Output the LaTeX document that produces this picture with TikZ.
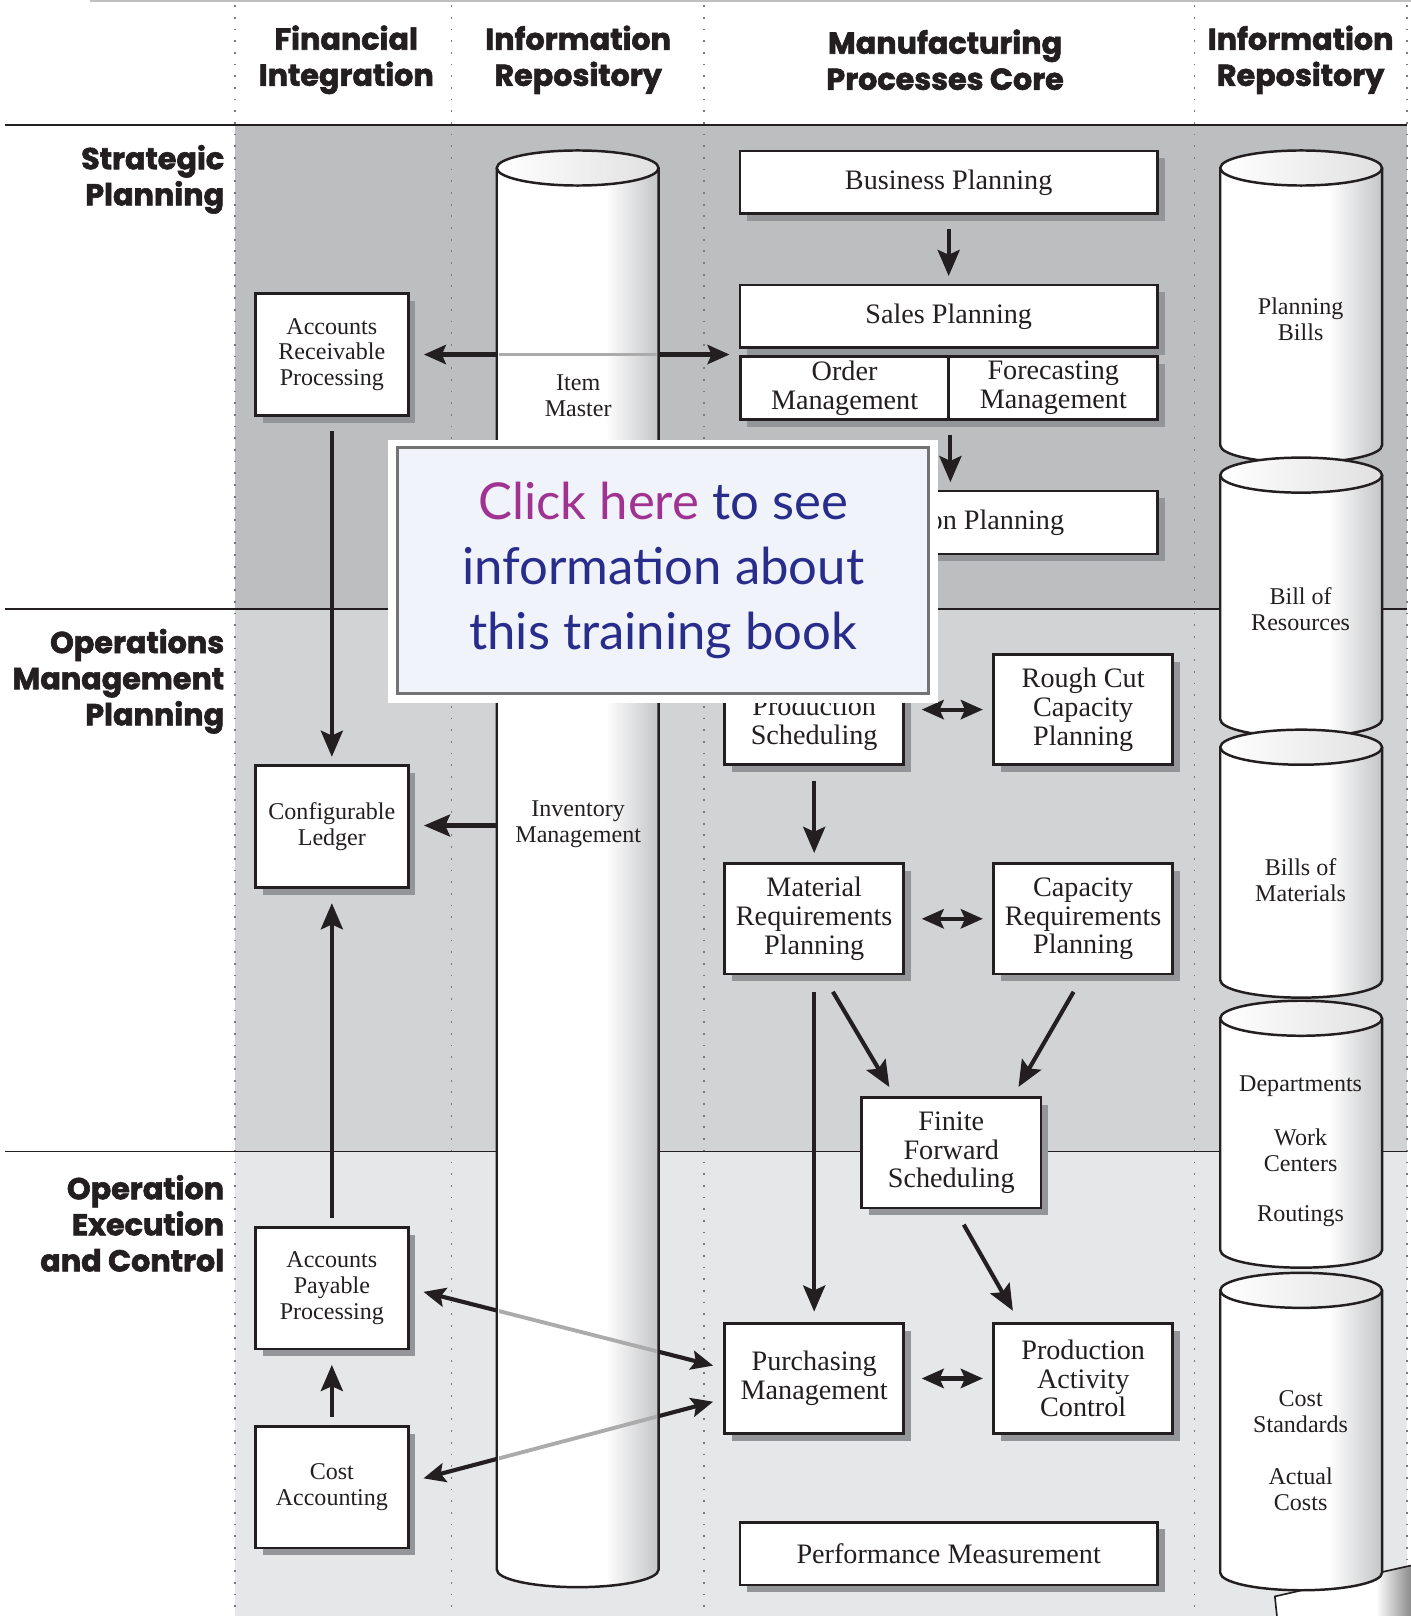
\documentclass[tikz,border=0pt]{standalone}
\usepackage{fontspec}
\setmainfont{Liberation Serif}
\newfontfamily\headfont[BoldFeatures={FakeBold=2}]{Poppins}
\newfontfamily\clickfont{Lato}
\usetikzlibrary{arrows.meta,shadows,calc}

\definecolor{bandA}{RGB}{188,190,192}
\definecolor{bandB}{RGB}{209,211,212}
\definecolor{bandC}{RGB}{230,231,232}
\definecolor{shadowgray}{RGB}{147,149,152}
\definecolor{dotgray}{RGB}{120,122,125}
\definecolor{cylgray}{RGB}{196,197,199}
\definecolor{inkblack}{RGB}{35,31,32}
\definecolor{clickpink}{RGB}{160,50,145}
\definecolor{clickblue}{RGB}{40,45,140}
\definecolor{clickfill}{RGB}{240,243,250}

\tikzset{every picture/.style={line width=0.75pt}}
\tikzset{
  procbox/.style={draw=inkblack, line width=2pt, fill=white, align=center, inner sep=0pt,
    font=\fontsize{20.5}{21}\selectfont, text=inkblack,
    drop shadow={shadow xshift=5.25pt, shadow yshift=-5.25pt, fill=shadowgray, opacity=1}},
  widebox/.style={procbox, minimum width=303.75pt, minimum height=45.75pt},
  halfbox/.style={procbox, minimum width=152pt, minimum height=45.75pt},
  midbox/.style={procbox, minimum width=130.5pt, minimum height=80.25pt},
  finbox/.style={procbox, minimum width=111pt, minimum height=88.5pt, font=\fontsize{17.5}{18.75}\selectfont},
  repolabel/.style={align=center, inner sep=0pt, text=inkblack, font=\fontsize{17.5}{18.75}\selectfont},
  colhead/.style={align=center, inner sep=0pt, text=inkblack, font=\headfont\bfseries\fontsize{22}{26.25}\selectfont},
  rowhead/.style={colhead, align=right, anchor=east},
  dotline/.style={dotgray, line width=1.3pt, dash pattern=on 1.3pt off 7.2pt},
  rule/.style={draw=inkblack, line width=1pt},
  cylline/.style={draw=inkblack, line width=1.8pt},
  arr/.style={draw=inkblack, line width=3pt, -{Stealth[length=19pt, width=16pt, inset=3.5pt]},
    shorten <=10pt, shorten >=5.5pt},
  biarr/.style={draw=inkblack, line width=3pt, {Stealth[length=16pt, width=14pt, inset=3pt]}-{Stealth[length=16pt, width=14pt, inset=3pt]}},
  ghost/.style={draw=black!33, line width=2.8pt},
}

% repository cylinder: left x, right x, top y, bottom y
\newcommand\repocyl[4]{%
  \pgfmathsetmacro\cylcx{(#1+#2)/2}%
  \pgfmathsetmacro\cylrx{(#2-#1)/2}%
  \begin{scope}
    \clip (#1,#3) -- (#1,#4) arc[start angle=180, end angle=0, x radius=\cylrx, y radius=17] -- (#2,#3) -- cycle;
    \fill[white] (#1,#3) rectangle (#2,#4+20);
    \shade[left color=white, right color=cylgray] (#2-52,#3) rectangle (#2,#4+20);
  \end{scope}
  \draw[cylline] (#1,#3) -- (#1,#4) arc[start angle=180, end angle=0, x radius=\cylrx, y radius=17] -- (#2,#3);
  \draw[cylline, left color=white, right color=black!12] (\cylcx,#3) ellipse [x radius=\cylrx, y radius=17];
}

\begin{document}
\begin{tikzpicture}[x=0.75pt,y=0.75pt,yscale=-1,xscale=1]
\useasboundingbox (0,0) rectangle (1369,1568);

%Bands
\fill[bandA] (228,121) rectangle (1365,591);
\fill[bandB] (228,591) rectangle (1365,1117);
\fill[bandC] (228,1117) rectangle (1365,1568);

%Column dividers
\foreach \x in {228,438,683,1159,1365}
  \draw[dotline] (\x,5) -- (\x,1568);

%Rules
\draw[black!25, line width=1pt] (87,1) -- (1369,1);
\draw[rule, line width=1.6pt] (5,121) -- (1365,121);
\draw[rule] (5,591) -- (1365,591);
\draw[rule] (5,1117) -- (1365,1117);

% Column heads
\node[colhead] (hfin) at (336,58) {Financial\\Integration};
\node[colhead] (hrepo) at (561,58) {Information\\Repository};
\node[colhead] (hcore) at (917,58) {Manufacturing\\Processes Core};
\node[colhead] (hrepob) at (1262,58) {Information\\Repository};

% Row heads
\node[rowhead] (rstrat) at (218,174) {Strategic\\Planning};
\node[rowhead] (roper) at (218,661) {Operations\\Management\\Planning};
\node[rowhead] (rexec) at (218,1187) {Operation\\Execution\\and Control};

% Manufacturing core
\node[widebox] (bp) at (920.5,177) {Business Planning};
\node[widebox] (sp) at (920.5,307) {Sales Planning};
\node[halfbox] (om) at (819.5,376.5) {Order\\Management};
\node[halfbox] (fm) at (1022,376.5) {Forecasting\\Management};
\node[widebox] (pp) at (920.5,507) {Production Planning};
\node[midbox] (mps) at (790,688.5) {Master\\Production\\Scheduling};
\node[midbox] (rccp) at (1051,688.5) {Rough Cut\\Capacity\\Planning};
\node[midbox] (mrp) at (790,891.5) {Material\\Requirements\\Planning};
\node[midbox] (crp) at (1051,891.5) {Capacity\\Requirements\\Planning};
\node[midbox] (ffs) at (923,1118.5) {Finite\\Forward\\Scheduling};
\node[midbox] (pur) at (790,1337.5) {Purchasing\\Management};
\node[midbox] (pac) at (1051,1337.5) {Production\\Activity\\Control};
\node[widebox] (perf) at (920.5,1507.5) {Performance Measurement};

% Financial integration
\node[finbox] (arp) at (322,344) {Accounts\\Receivable\\Processing};
\node[finbox] (cl) at (322,802) {Configurable\\Ledger};
\node[finbox] (app) at (322,1250) {Accounts\\Payable\\Processing};
\node[finbox] (ca) at (322,1443) {Cost\\Accounting};

% Connectors
\coordinate (invout) at (482,801);
\draw[arr] (bp.south) -- (sp.north);
\draw[arr] (om.south east) -- (om.south east |- pp.north);
\draw[arr, shorten <=10.5pt] (arp.south) -- (cl.north);
\draw[arr, shorten <=0pt, shorten >=10.5pt] (invout) -- (invout -| cl.east);
\draw[arr, shorten <=6pt, shorten >=10.5pt] (app.north) -- (cl.south);
\draw[arr, shorten <=6pt, shorten >=10.5pt] (ca.north) -- (app.south);
\draw[arr, shorten <=11pt, shorten >=6.75pt] (mps.south) -- (mrp.north);
\draw[arr, shorten <=12pt, shorten >=7.5pt] (mrp.south) -- (pur.north);
\draw[arr, shorten <=13.9pt, shorten >=7.8pt] ($(mrp.south)+(8.7,0)$) -- ($(ffs.north)+(-54.8,0)$);
\draw[arr, shorten <=13.9pt, shorten >=7.8pt] (crp.south) -- ($(ffs.north)+(60,0)$);
\draw[arr, shorten <=12.9pt, shorten >=9.4pt] ($(ffs.south)+(3.6,0)$) -- ($(pac.north)+(-62,0)$);
\draw[biarr, shorten <=10.5pt, shorten >=6.75pt] (arp.east) -- (arp.east -| om.west);
\draw[biarr, shorten <=12pt, shorten >=6.75pt] (mps.east) -- (rccp.west);
\draw[biarr, shorten <=12pt, shorten >=6.75pt] (mrp.east) -- (crp.west);
\draw[biarr, shorten <=12pt, shorten >=6.75pt] (pur.east) -- (pac.west);
\draw[biarr, shorten <=10.5pt, shorten >=7.5pt] (app.east) -- ($(pur.west)+(0,-10)$);
\draw[biarr, shorten <=10.5pt, shorten >=7.5pt] ($(ca.east)+(0,-5)$) -- ($(pur.west)+(0,20)$);

% Page corner
\fill[white] (1237,1549) -- (1369,1519) -- (1369,1568) -- (1239,1568) -- cycle;
\shade[left color=white, right color=black!45] (1335,1525) -- (1369,1519) -- (1369,1568) -- (1335,1568) -- cycle;
\draw[inkblack, line width=1.2pt] (1239,1568) -- (1237,1549) -- (1369,1519);

% Repositories
\repocyl{482}{639}{163}{1523}
\repocyl{1184}{1341}{163}{432}
\repocyl{1184}{1341}{461}{698}
\repocyl{1184}{1341}{725}{951}
\repocyl{1184}{1341}{988}{1213}
\repocyl{1184}{1341}{1252}{1526}

% connectors seen through the item repository
\begin{scope}
  \clip (484,150) rectangle (637,1530);
  \draw[ghost, shorten <=10.5pt, shorten >=6.75pt] (arp.east) -- (arp.east -| om.west);
  \draw[ghost, shorten <=10.5pt, shorten >=7.5pt] (app.east) -- ($(pur.west)+(0,-10)$);
  \draw[ghost, shorten <=10.5pt, shorten >=7.5pt] ($(ca.east)+(0,-5)$) -- ($(pur.west)+(0,20)$);
\end{scope}

\node[repolabel] (im) at (561,384) {Item\\Master};
\node[repolabel] (invm) at (561,800) {Inventory\\Management};
\node[repolabel] (pb) at (1262,310) {Planning\\Bills};
\node[repolabel] (bor) at (1262,591) {Bill of\\Resources};
\node[repolabel] (bom) at (1262,854) {Bills of\\Materials};
\node[repolabel] (dept) at (1262,1054) {Departments};
\node[repolabel] (wc) at (1262,1116) {Work\\Centers};
\node[repolabel] (rout) at (1262,1180) {Routings};
\node[repolabel] (cs) at (1262,1370) {Cost\\Standards};
\node[repolabel] (ac) at (1262,1445) {Actual\\Costs};

% Overlay
\fill[white] (376,427) rectangle (910,682);
\node[draw=black!55, line width=2pt, fill=clickfill, minimum width=386.25pt, minimum height=179.25pt,
  align=center, inner sep=0pt, text=clickblue, font=\clickfont\fontsize{37}{47}\selectfont]
  (click) at (643.5,553.5) {\textcolor{clickpink}{Click here} to see\\information about\\this training book};

\end{tikzpicture}
\end{document}
